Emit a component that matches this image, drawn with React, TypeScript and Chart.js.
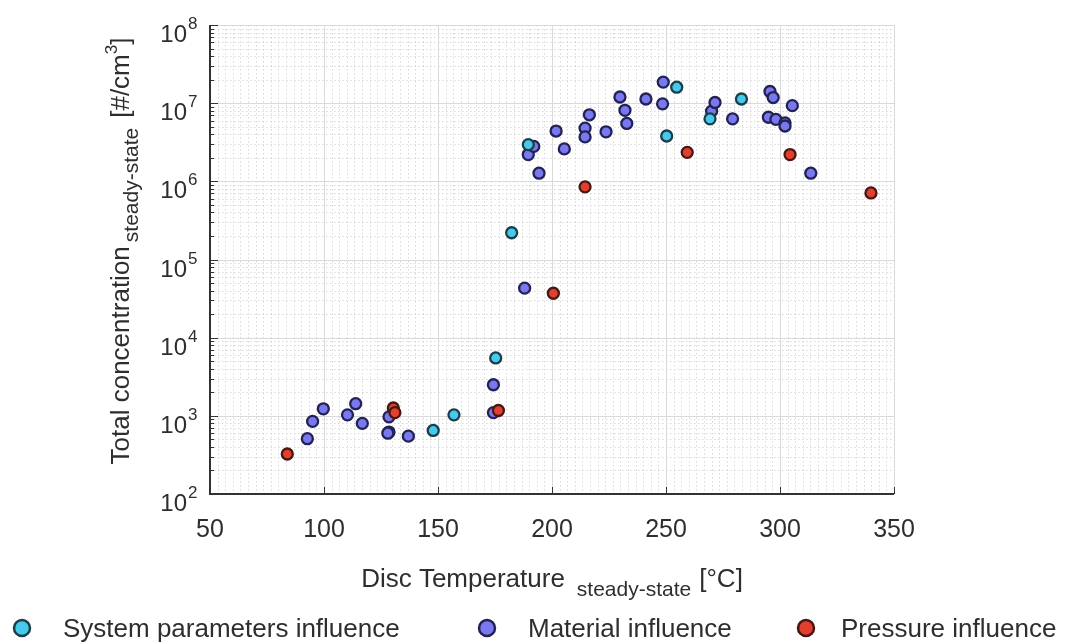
import React, { useEffect, useRef } from "react";
import { Chart, registerables } from "chart.js";

Chart.register(...registerables);

// ---- axis definitions ----
const X_MIN = 50;
const X_MAX = 350;
const Y_MIN = 1e2;
const Y_MAX = 1e8;
const xTickLabels = [50, 100, 150, 200, 250, 300, 350];
const yDecadeExponents = [2, 3, 4, 5, 6, 7, 8];

// ---- data: System parameters influence ----
const systemTemp = [147.9, 157.0, 175.3, 182.3, 189.6, 250.3, 254.7, 269.3, 283.1];
const systemConc = [650, 1030, 5500, 2.2e5, 2.95e6, 3.8e6, 1.6e7, 6.3e6, 1.13e7];

// ---- data: Material influence ----
const materialTemp = [
  92.7, 95.0, 99.7, 110.3, 113.9, 116.8, 128.5, 128.5, 128.0, 137.0, 174.3, 174.3,
  188.0, 189.6, 192.0, 194.3, 201.8, 205.4, 214.5, 214.5, 216.4, 223.7, 229.8, 232.0,
  232.8, 241.2, 248.8, 248.5, 270.0, 271.5, 279.2, 294.9, 295.6, 297.0, 298.2, 302.2,
  302.2, 305.4, 313.5,
];
const materialConc = [
  510, 850, 1230, 1030, 1430, 800, 970, 620, 600, 550, 2500, 1100,
  4.3e4, 2.2e6, 2.8e6, 1.27e6, 4.4e6, 2.6e6, 4.8e6, 3.7e6, 7.1e6, 4.3e6, 1.2e7, 8.1e6,
  5.5e6, 1.13e7, 1.86e7, 9.8e6, 7.9e6, 1.02e7, 6.3e6, 6.6e6, 1.41e7, 1.18e7, 6.2e6, 5.6e6,
  5.1e6, 9.3e6, 1.27e6,
];

// ---- data: Pressure influence ----
const pressureTemp = [83.9, 130.4, 131.1, 176.5, 200.6, 214.5, 259.3, 304.4, 339.9];
const pressureConc = [325, 1260, 1100, 1170, 3.7e4, 8.5e5, 2.35e6, 2.2e6, 7.1e5];

const seriesNames = ["System parameters influence", "Material influence", "Pressure influence"];
const seriesFill = ["#47c9ec", "#7a78ee", "#e33f2e"];
const seriesEdge = ["#1a3f4a", "#222255", "#471811"];

const FONT = '"Liberation Sans", Arial, Helvetica, sans-serif';
const TEXT = "#2e2e2e";

function toPoints(xs: number[], ys: number[]) {
  return xs.map((x, i) => ({ x, y: ys[i] }));
}

type Part = { t: string; size: number; dy: number; gap?: number };

function drawParts(ctx: CanvasRenderingContext2D, parts: Part[], startX: number, baseY: number) {
  let cx = startX;
  for (const p of parts) {
    cx += p.gap || 0;
    ctx.font = `${p.size}px ${FONT}`;
    ctx.fillText(p.t, cx, baseY + p.dy);
    cx += ctx.measureText(p.t).width;
  }
}

function partsWidth(ctx: CanvasRenderingContext2D, parts: Part[]) {
  let w = 0;
  for (const p of parts) {
    ctx.font = `${p.size}px ${FONT}`;
    w += (p.gap || 0) + ctx.measureText(p.t).width;
  }
  return w;
}

const matlabAxes = {
  id: "matlabAxes",
  beforeDatasetsDraw(chart: any) {
    const { ctx, chartArea: a, scales } = chart;
    const x = scales.x;
    const y = scales.y;
    ctx.save();
    ctx.lineWidth = 1;
    // minor grid (dotted)
    ctx.strokeStyle = "#d8d8d8";
    ctx.setLineDash([1.5, 2.5]);
    ctx.beginPath();
    const nMinor = 15;
    for (let i = 0; i <= ((X_MAX - X_MIN) / 50) * nMinor; i++) {
      if (i % nMinor === 0) continue;
      const px = Math.round(x.getPixelForValue(X_MIN + (i * 50) / nMinor)) + 0.5;
      ctx.moveTo(px, a.top);
      ctx.lineTo(px, a.bottom);
    }
    for (let e = 2; e < 8; e++) {
      for (let k = 2; k <= 9; k++) {
        const py = Math.round(y.getPixelForValue(k * Math.pow(10, e))) + 0.5;
        ctx.moveTo(a.left, py);
        ctx.lineTo(a.right, py);
      }
    }
    ctx.stroke();
    // major grid
    ctx.setLineDash([]);
    ctx.strokeStyle = "#d9d9d9";
    ctx.beginPath();
    for (const v of xTickLabels) {
      const px = Math.round(x.getPixelForValue(v)) + 0.5;
      ctx.moveTo(px, a.top);
      ctx.lineTo(px, a.bottom);
    }
    for (const e of yDecadeExponents) {
      const py = Math.round(y.getPixelForValue(Math.pow(10, e))) + 0.5;
      ctx.moveTo(a.left, py);
      ctx.lineTo(a.right, py);
    }
    ctx.stroke();
    ctx.restore();
  },
  afterDatasetsDraw(chart: any) {
    const { ctx, chartArea: a, scales } = chart;
    const x = scales.x;
    const y = scales.y;
    ctx.save();
    // axis lines
    ctx.strokeStyle = "#333333";
    ctx.lineWidth = 2;
    ctx.beginPath();
    ctx.moveTo(a.left, a.top);
    ctx.lineTo(a.left, a.bottom);
    ctx.lineTo(a.right, a.bottom);
    ctx.stroke();
    // ticks
    ctx.lineWidth = 1;
    ctx.beginPath();
    for (const v of xTickLabels) {
      const px = Math.round(x.getPixelForValue(v)) + 0.5;
      ctx.moveTo(px, a.bottom);
      ctx.lineTo(px, a.bottom - 7);
    }
    for (const e of yDecadeExponents) {
      const py = Math.round(y.getPixelForValue(Math.pow(10, e))) + 0.5;
      ctx.moveTo(a.left, py);
      ctx.lineTo(a.left + 8, py);
      if (e < 8) {
        for (let k = 2; k <= 9; k++) {
          const pm = Math.round(y.getPixelForValue(k * Math.pow(10, e))) + 0.5;
          ctx.moveTo(a.left, pm);
          ctx.lineTo(a.left + 4, pm);
        }
      }
    }
    ctx.stroke();

    // tick labels
    ctx.fillStyle = TEXT;
    ctx.textBaseline = "alphabetic";
    ctx.font = `25px ${FONT}`;
    ctx.textAlign = "center";
    for (const v of xTickLabels) {
      ctx.fillText(String(v), x.getPixelForValue(v), a.bottom + 43);
    }
    for (const e of yDecadeExponents) {
      const py = y.getPixelForValue(Math.pow(10, e));
      ctx.textAlign = "right";
      ctx.font = `24px ${FONT}`;
      ctx.fillText("10", 187, py + 17);
      ctx.textAlign = "left";
      ctx.font = `17px ${FONT}`;
      ctx.fillText(String(e), 188, py + 4);
    }

    // x title
    ctx.textAlign = "left";
    const xParts: Part[] = [
      { t: "Disc Temperature", size: 26, dy: 0 },
      { t: "steady-state", size: 21, dy: 9, gap: 12 },
      { t: "[°C]", size: 26, dy: 0, gap: 8 },
    ];
    const xw = partsWidth(ctx, xParts);
    const xc = (a.left + a.right) / 2;
    drawParts(ctx, xParts, xc - xw / 2, 587);

    // y title (rotated)
    const yParts: Part[] = [
      { t: "Total concentration", size: 26, dy: 0 },
      { t: "steady-state", size: 21, dy: 9, gap: 4 },
      { t: "[#/cm", size: 26, dy: 0, gap: 10 },
      { t: "3", size: 17, dy: -12 },
      { t: "]", size: 26, dy: 0 },
    ];
    const yw = partsWidth(ctx, yParts);
    ctx.save();
    ctx.translate(129, 251 + yw / 2);
    ctx.rotate(-Math.PI / 2);
    drawParts(ctx, yParts, 0, 0);
    ctx.restore();

    // legend
    const legendMarkerX = [22, 487, 806];
    const legendTextX = [63, 528, 841];
    for (let i = 0; i < 3; i++) {
      ctx.beginPath();
      ctx.arc(legendMarkerX[i], 628, 8, 0, Math.PI * 2);
      ctx.fillStyle = seriesFill[i];
      ctx.fill();
      ctx.lineWidth = 2.5;
      ctx.strokeStyle = seriesEdge[i];
      ctx.stroke();
      ctx.fillStyle = TEXT;
      ctx.font = `26px ${FONT}`;
      ctx.textAlign = "left";
      ctx.fillText(seriesNames[i], legendTextX[i], 637);
    }
    ctx.restore();
  },
};

export default function App() {
  const ref = useRef<HTMLCanvasElement | null>(null);
  useEffect(() => {
    if (!ref.current) return;
    const mk = (i: number, data: { x: number; y: number }[], order: number) => ({
      label: seriesNames[i],
      data,
      order,
      backgroundColor: seriesFill[i],
      borderColor: seriesEdge[i],
      pointRadius: 5.5,
      pointHoverRadius: 5.5,
      pointBorderWidth: 2.3,
      pointHoverBorderWidth: 2.3,
      showLine: false,
    });
    const chart = new Chart(ref.current, {
      type: "scatter",
      data: {
        datasets: [
          mk(1, toPoints(materialTemp, materialConc), 2),
          mk(0, toPoints(systemTemp, systemConc), 1),
          mk(2, toPoints(pressureTemp, pressureConc), 0),
        ],
      },
      options: {
        animation: false,
        responsive: false,
        devicePixelRatio: 1,
        layout: { padding: { left: 210, right: 171, top: 25, bottom: 149 } },
        plugins: { legend: { display: false }, tooltip: { enabled: false } },
        events: [],
        scales: {
          x: { type: "linear", min: X_MIN, max: X_MAX, display: false },
          y: { type: "logarithmic", min: Y_MIN, max: Y_MAX, display: false },
        },
      },
      plugins: [matlabAxes],
    });
    return () => chart.destroy();
  }, []);
  return (
    <div style={{ position: "fixed", left: 0, top: 0, width: 1065, height: 643, background: "#ffffff" }}>
      <canvas ref={ref} width={1065} height={643} style={{ display: "block" }} />
    </div>
  );
}
